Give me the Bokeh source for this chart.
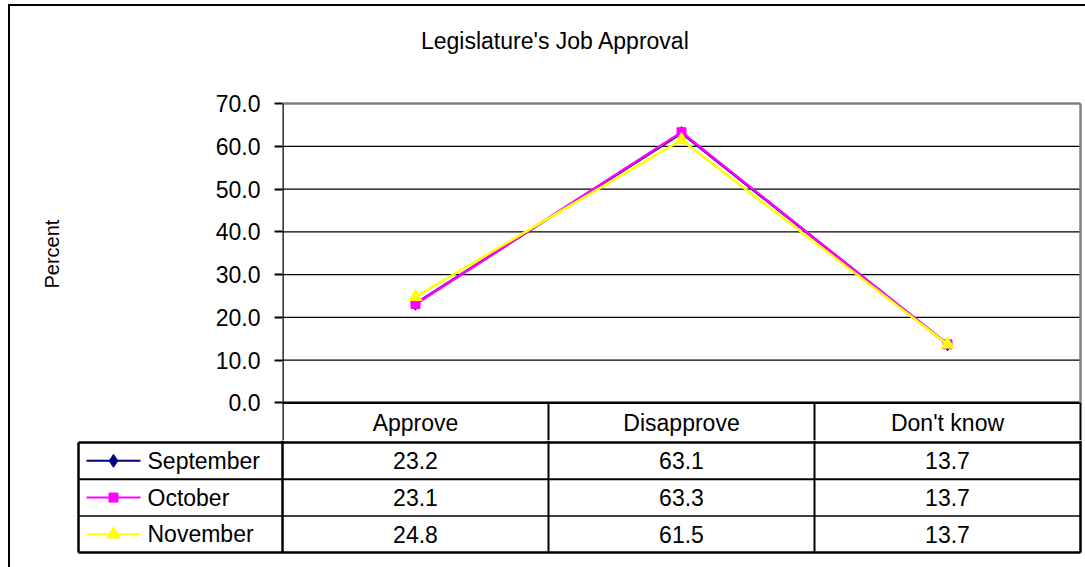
from bokeh.plotting import figure
from bokeh.layouts import column
from bokeh.models import Range1d, FixedTicker, NumeralTickFormatter, ColumnDataSource, Title
from bokeh.core.properties import value
from bokeh.embed import file_html
from bokeh.resources import INLINE

# ---- data ----
categories = ["Approve", "Disapprove", "Don't know"]
months = ["September", "October", "November"]
september = [23.2, 63.1, 13.7]
october = [23.1, 63.3, 13.7]
november = [24.8, 61.5, 13.7]
y_ticks = [0, 10, 20, 30, 40, 50, 60, 70]
title_text = "Legislature's Job Approval"
y_label = "Percent"

# ---- style ----
FONT = value("Liberation Sans")
FONT_NAME = "Liberation Sans"
FS = "23px"
colors = ["#000080", "#FF00FF", "#FFFF00"]
markers = ["diamond", "square", "triangle"]
marker_sizes = [13, 9, 13]
series = [september, october, november]
n = len(categories)
YMAX = y_ticks[-1]

W = 1075
CAT_PX = 266.0          # pixels per category column
Y_PX = 302.0 / YMAX     # pixels per percent point
HEADER_PX = 40.0        # header row height in pixels
ROW_PX = 36.7           # data row height in pixels
HDR = -HEADER_PX / Y_PX  # header bottom in chart units

# ---------------- chart (with header row) ----------------
p = figure(width=W, height=434,
           x_range=Range1d(0, n + 2.0 / CAT_PX),
           y_range=Range1d(-38.0 / Y_PX, YMAX + 98.0 / Y_PX),
           output_backend="svg", toolbar_location=None,
           x_axis_location=None,
           min_border_left=272, min_border_right=3,
           min_border_top=0, min_border_bottom=0)
p.frame_align = False

p.yaxis.ticker = FixedTicker(ticks=y_ticks)
p.yaxis.formatter = NumeralTickFormatter(format="0.0")
p.yaxis.axis_line_color = None
p.yaxis.major_tick_line_color = "black"
p.yaxis.major_tick_line_width = 2
p.yaxis.major_tick_out = 8
p.yaxis.major_tick_in = 0
p.yaxis.minor_tick_line_color = None
p.yaxis.major_label_text_font = FONT_NAME
p.yaxis.major_label_text_font_size = FS
p.yaxis.major_label_text_color = "black"
p.yaxis.major_label_standoff = 14
# blank axis label only reserves space; the visible label is a left-side Title
p.yaxis.axis_label = " "
p.yaxis.axis_label_text_font_size = "20px"
p.yaxis.axis_label_standoff = 120

ylab = Title(text=y_label, align="left", offset=152, vertical_align="bottom",
             text_font=FONT_NAME, text_font_size="20px", text_font_style="normal",
             text_color="black")
p.add_layout(ylab, "left")

p.xgrid.grid_line_color = None
p.ygrid.grid_line_color = None
p.outline_line_color = None
p.background_fill_color = "white"
p.border_fill_color = "white"

# horizontal gridlines at the tick values (70 is the grey plot-area border)
grid_vals = y_ticks[1:-1]
p.segment(x0=[0] * len(grid_vals), x1=[n] * len(grid_vals), y0=grid_vals, y1=grid_vals,
          line_color="black", line_width=1.2)
p.segment(x0=[0], x1=[n], y0=[0], y1=[0], line_color="black", line_width=2.5)
# grey plot-area border (top + right)
p.segment(x0=[0, n], x1=[n, n], y0=[YMAX, 0], y1=[YMAX, YMAX], line_color="#808080", line_width=2.5)
# axis line / header column lines
p.segment(x0=[0], x1=[0], y0=[HDR], y1=[YMAX], line_color="black", line_width=2.5)
p.segment(x0=list(range(1, n + 1)), x1=list(range(1, n + 1)), y0=[HDR] * n, y1=[0] * n,
          line_color="black", line_width=2)

# title
p.text(x=[(555 - 282) / CAT_PX], y=[(402 - 37) / Y_PX], text=[title_text],
       text_align="center", text_baseline="middle", text_font=FONT,
       text_font_size=FS, text_color="black")

# header row (category names)
cx = [i + 0.5 for i in range(n)]
p.text(x=cx, y=[HDR / 2] * n, text=categories, text_align="center",
       text_baseline="middle", text_font=FONT, text_font_size=FS, text_color="black")

for vals, c, m, s in zip(series, colors, markers, marker_sizes):
    p.line(cx, vals, line_color=c, line_width=2.5)
    p.scatter(cx, vals, marker=m, size=s, fill_color=c, line_color=c)

# ---------------- data table rows ----------------
L = -204.0 / CAT_PX  # left edge of label column (category units)
TOP = -2.0 / ROW_PX
q = figure(width=W, height=127,
           x_range=Range1d(-272.0 / CAT_PX, n + 5.0 / CAT_PX),
           y_range=Range1d((567 - 442) / ROW_PX, TOP),
           output_backend="svg", toolbar_location=None,
           x_axis_location=None, y_axis_location=None,
           min_border=0)
q.frame_align = False
q.grid.visible = False
q.outline_line_color = None
q.background_fill_color = "white"
q.border_fill_color = "white"

hx0 = [L, L, L, L]
hx1 = [n] * 4
hy = [0, 1, 2, 3]
hw = [2.5, 2, 1.5, 2.5]
vx = [L, 0, 1, 2, 3]
vy0 = [0, TOP, TOP, TOP, TOP]
vy1 = [3, 3, 3, 3, 3]
vw = [2.5, 2.5, 2, 2, 2.5]
seg = ColumnDataSource(dict(
    x0=hx0 + vx, x1=hx1 + vx, y0=hy + vy0, y1=hy + vy1, w=hw + vw))
q.segment(x0="x0", y0="y0", x1="x1", y1="y1", line_width="w",
          line_color="black", source=seg)

kx0 = (86 - 282) / CAT_PX
kx1 = (140 - 282) / CAT_PX
km = (113 - 282) / CAT_PX
tx = (147 - 282) / CAT_PX
for r, (vals, c, m, s, name) in enumerate(zip(series, colors, markers, marker_sizes, months)):
    yy = r + 0.5
    q.text(x=cx, y=[yy] * n, text=["%.1f" % v for v in vals], text_align="center",
           text_baseline="middle", text_font=FONT, text_font_size=FS,
           text_color="black")
    q.segment(x0=[kx0], y0=[yy], x1=[kx1], y1=[yy], line_color=c, line_width=2)
    q.scatter(x=[km], y=[yy], marker=m, size=s, fill_color=c, line_color=c)
    q.text(x=[tx], y=[yy], text=[name], text_align="left",
           text_baseline="middle", text_font=FONT, text_font_size=FS,
           text_color="black")

layout = column(p, q, styles={"margin-left": "8px", "margin-top": "4px",
                              "border-left": "2px solid black",
                              "border-top": "2px solid black"})

open("out.html", "w").write(file_html(layout, INLINE))
